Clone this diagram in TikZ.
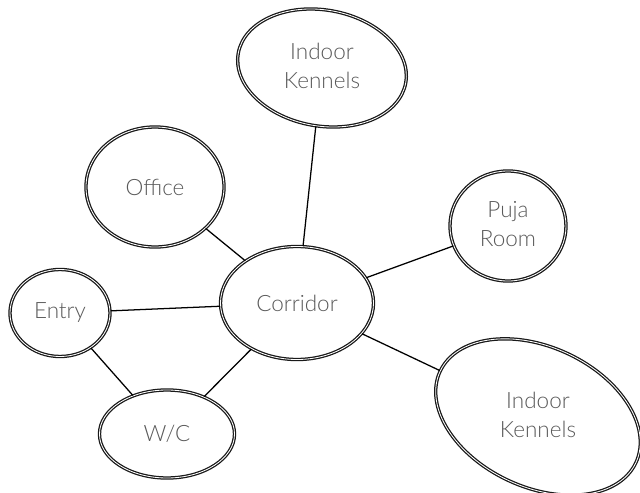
\documentclass[tikz,border=0pt]{standalone}
\usepackage{fontspec}
\setmainfont{Lato Light}
\usepackage{tikz}
\usetikzlibrary{positioning,shapes.geometric}
\newcommand{\twolines}[2]{\begin{tabular}{@{}c@{}}#1\\#2\end{tabular}}

\begin{document}
\begin{tikzpicture}[
  x=0.025cm, y=-0.025cm,
  room/.style={ellipse,draw=black!90,line width=0.9pt,double=white,double distance=0.6pt,inner sep=0pt,text=black!65,font=\fontsize{16}{21}\selectfont},
  link/.style={draw,line width=0.9pt}
]
\useasboundingbox (0,0) rectangle (640,493);
\node[room,minimum width=4.25cm,minimum height=2.9cm,rotate=-10] (kennelA) at (322,68) {\rotatebox{10}{\twolines{Indoor}{Kennels}}};
\node[room,minimum width=3.45cm,minimum height=3cm] (office) at (155,187) {Office};
\node[room,minimum width=2.9cm,minimum height=2.75cm] (puja) at (508,226) {\twolines{Puja}{Room}};
\node[room,minimum width=3.825cm,minimum height=2.825cm] (corridor) at (297,303) {Corridor};
\node[room,minimum width=2.5cm,minimum height=2.175cm] (entry) at (60,313) {Entry};
\node[room,minimum width=3.375cm,minimum height=2.2cm] (wc) at (167,434) {W/C};
\node[room,minimum width=5.4cm,minimum height=3.5cm,rotate=-25] (kennelB) at (538,417) {\rotatebox{25}{\twolines{Indoor}{Kennels}}};
\draw[link] (office) -- (corridor);
\draw[link] (kennelA) -- (corridor);
\draw[link] (puja) -- (corridor);
\draw[link] (entry) -- (corridor);
\draw[link] (entry) -- (wc);
\draw[link] (wc) -- (corridor);
\draw[link] (corridor) -- (kennelB);
\end{tikzpicture}
\end{document}
